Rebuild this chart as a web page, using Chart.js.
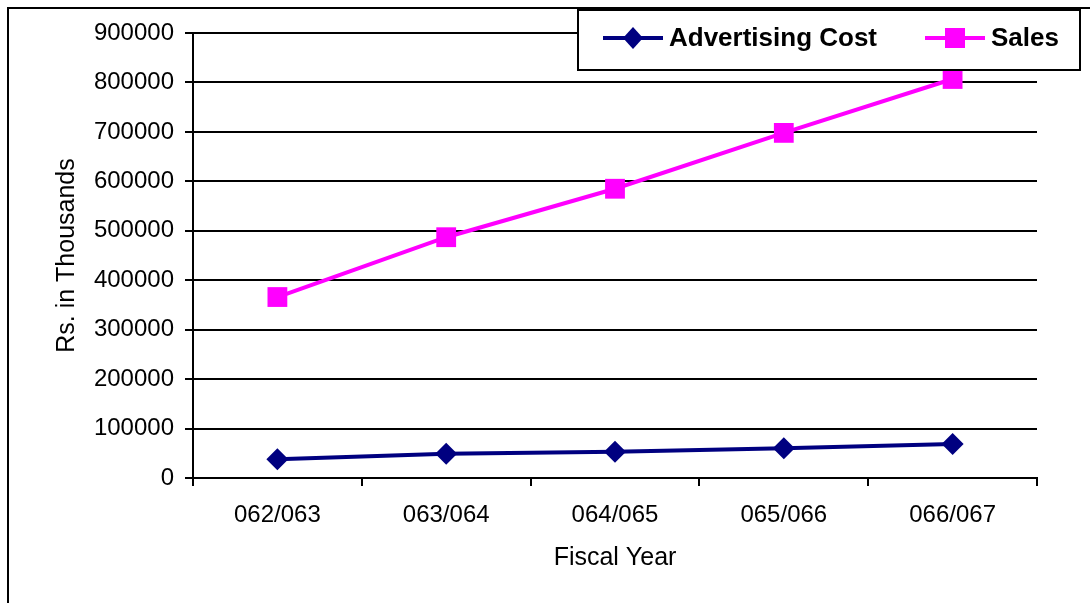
<!DOCTYPE html>
<html>
<head>
<meta charset="utf-8">
<script src="https://cdn.jsdelivr.net/npm/chart.js@4"></script>
<style>
  html, body { margin: 0; padding: 0; background: #fff; }
  #wrap { position: relative; width: 1090px; height: 603px; overflow: hidden; }
  #frame { position: absolute; left: 7px; top: 7px; width: 1200px; height: 700px; border-left: 2px solid #000; border-top: 2px solid #000; }
  canvas { position: absolute; left: 0; top: 0; }
</style>
</head>
<body>
<div id="wrap">
  <div id="frame"></div>
  <canvas id="chart" width="1090" height="603"></canvas>
</div>
<script>
const years = ['062/063', '063/064', '064/065', '065/066', '066/067'];
const advertisingCost = [38000, 49000, 53000, 60000, 69000];
const sales = [366000, 487000, 585000, 698000, 807000];

const NAVY = '#000080';
const PINK = '#FF00FF';
const FONT = '"Liberation Sans", Arial, sans-serif';

// legend box in the top-right, drawn over the plot like the original
const boxLegend = {
  id: 'boxLegend',
  afterDraw(chart) {
    const ctx = chart.ctx;
    ctx.save();
    ctx.fillStyle = '#fff';
    ctx.fillRect(578, 10, 502, 60);
    ctx.strokeStyle = '#000';
    ctx.lineWidth = 2;
    ctx.strokeRect(578, 10, 502, 60);

    const y = 38;
    chart.data.datasets.forEach((ds, i) => {
      const x0 = i === 0 ? 603 : 925;
      const cx = x0 + 30;
      ctx.strokeStyle = ds.borderColor;
      ctx.lineWidth = 4;
      ctx.beginPath();
      ctx.moveTo(x0, y);
      ctx.lineTo(x0 + 60, y);
      ctx.stroke();
      ctx.fillStyle = ds.borderColor;
      ctx.beginPath();
      if (ds.pointStyle === 'rectRot') {
        ctx.moveTo(cx - 10, y);
        ctx.lineTo(cx, y - 11);
        ctx.lineTo(cx + 10, y);
        ctx.lineTo(cx, y + 11);
        ctx.closePath();
      } else {
        ctx.rect(cx - 10, y - 10, 20, 20);
      }
      ctx.fill();
      ctx.fillStyle = '#000';
      ctx.font = 'bold 26px ' + FONT;
      ctx.textBaseline = 'middle';
      ctx.textAlign = 'left';
      ctx.fillText(ds.label, x0 + 66, y + 1);
    });
    ctx.restore();
  }
};

new Chart(document.getElementById('chart'), {
  type: 'line',
  data: {
    labels: years,
    datasets: [
      {
        label: 'Advertising Cost',
        data: advertisingCost,
        borderColor: NAVY,
        backgroundColor: NAVY,
        borderWidth: 4,
        pointStyle: 'rectRot',
        pointRadius: 11,
        pointBorderWidth: 0,
        tension: 0
      },
      {
        label: 'Sales',
        data: sales,
        borderColor: PINK,
        backgroundColor: PINK,
        borderWidth: 4,
        pointStyle: 'rect',
        pointRadius: 14,
        pointBorderWidth: 0,
        tension: 0
      }
    ]
  },
  options: {
    responsive: false,
    animation: false,
    events: [],
    layout: { padding: { left: 0, top: 33, right: 53, bottom: 0 } },
    plugins: {
      legend: { display: false },
      tooltip: { enabled: false }
    },
    scales: {
      x: {
        offset: true,
        afterFit: (s) => { s.height = 125; },
        grid: { display: true, drawOnChartArea: false, offset: true, tickLength: 8, color: '#000', lineWidth: 2 },
        border: { display: true, color: '#000', width: 2 },
        ticks: { color: '#000', padding: 15, font: { family: FONT, size: 24 } },
        title: {
          display: true,
          text: 'Fiscal Year',
          color: '#000',
          padding: { top: 0, bottom: 30 },
          font: { family: FONT, size: 25 }
        }
      },
      y: {
        min: 0,
        max: 900000,
        afterFit: (s) => { s.width = 193; },
        grid: { color: '#000', lineWidth: 2, tickLength: 8 },
        border: { display: true, color: '#000', width: 2 },
        ticks: {
          stepSize: 100000,
          color: '#000',
          padding: 11,
          font: { family: FONT, size: 24 },
          callback: (v) => String(v)
        },
        title: {
          display: true,
          text: 'Rs. in Thousands',
          color: '#000',
          padding: { top: 52, bottom: 0 },
          font: { family: FONT, size: 25 }
        }
      }
    }
  },
  plugins: [boxLegend]
});
</script>
</body>
</html>
